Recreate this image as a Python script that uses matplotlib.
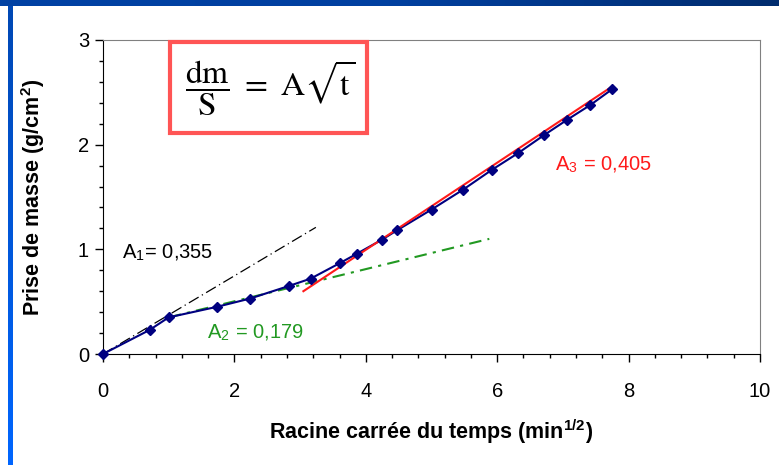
#Prise de masse vs racine carree du temps, with the three linear regimes A1, A2, A3.
import numpy as np
import matplotlib.pyplot as plt
from matplotlib.patches import Rectangle
from matplotlib.colors import LinearSegmentedColormap

plt.rcParams['font.family'] = ['Liberation Sans', 'DejaVu Sans']
plt.rcParams['mathtext.fontset'] = 'stix'

#measured points: sqrt(t) in min^1/2 and mass gain in g/cm2
sqrt_t = [0, 0.71, 1.0, 1.73, 2.24, 2.83, 3.16, 3.61, 3.87, 4.24, 4.47,
          5.0, 5.48, 5.92, 6.32, 6.71, 7.07, 7.42, 7.75]
gain = [0, 0.23, 0.35, 0.45, 0.53, 0.65, 0.72, 0.87, 0.96, 1.09, 1.18,
        1.38, 1.57, 1.76, 1.92, 2.09, 2.24, 2.38, 2.53]

#the three fitted regimes, start and end points
a1_x = [0, 3.24]
a1_y = [0, 1.21]
a2_x = [1.0, 5.88]
a2_y = [0.35, 1.10]
a3_x = [3.05, 7.76]
a3_y = [0.60, 2.56]

fig = plt.figure(figsize=(7.79, 4.65), dpi=100)

#slide decoration: blue bar on top and on the left
top = fig.add_axes([0, 1 - 6/465, 1, 6/465])
top.imshow(np.linspace(0, 1, 256).reshape(1, -1), aspect='auto',
           cmap=LinearSegmentedColormap.from_list('t', ['#0042a4', '#0040a0', '#002c6e']))
top.axis('off')
side = fig.add_axes([8/779, 0, 5/779, 1 - 6/465])
side.imshow(np.linspace(0, 1, 256).reshape(-1, 1), aspect='auto',
            cmap=LinearSegmentedColormap.from_list('s', ['#0048b4', '#0066ff']))
side.axis('off')

ax = fig.add_axes([103/779, 1 - 354/465, 657/779, 314/465])

ax.plot(a1_x, a1_y, color='black', lw=0.9, dashes=(9, 3, 1, 3), zorder=2)
ax.plot(a2_x, a2_y, color='#229922', lw=1.5, dashes=(6, 3, 1.5, 3), zorder=2)
ax.plot(sqrt_t, gain, color='#000080', lw=1.5, zorder=3)
ax.plot(a3_x, a3_y, color='#ff1a1a', lw=1.5, zorder=4)
ax.plot(sqrt_t, gain, 'D', color='#000080', ms=5.5, zorder=5, clip_on=False)

ax.text(0.29, 0.97, r'A$_\mathregular{1}$= 0,355', fontsize=14.5, color='black', va='center')
ax.text(1.58, 0.20, r'A$_\mathregular{2}$ = 0,179', fontsize=14.5, color='#229922', va='center')
ax.text(6.88, 1.81, r'A$_\mathregular{3}$ = 0,405', fontsize=14.5, color='#ff1a1a', va='center')

ax.set_xlim(0, 10)
ax.set_ylim(0, 3)
ax.set_xticks([0, 2, 4, 6, 8, 10])
ax.set_xticks(np.arange(0, 10.01, 0.4), minor=True)
ax.set_yticks([0, 1, 2, 3])
ax.set_yticks(np.arange(0, 3.01, 0.2), minor=True)
ax.tick_params(which='major', direction='out', length=6, width=1, labelsize=14.5, colors='black')
ax.tick_params(which='minor', direction='out', length=3, width=1)
ax.tick_params(axis='x', pad=14)
ax.tick_params(axis='y', pad=4)
for s in ['top', 'right']:
    ax.spines[s].set_color('#808080')
for s in ['left', 'bottom']:
    ax.spines[s].set_color('black')

ax.set_xlabel(r'Racine carrée du temps (min$^\mathregular{1/2}$)', fontsize=15.5, fontweight='bold', labelpad=12)
ax.set_ylabel(r'Prise de masse (g/cm$^\mathregular{2}$)', fontsize=15.5, fontweight='bold', labelpad=22)

#formula box
fig.patches.append(Rectangle((170/779, 1 - 133/465), 197/779, 91/465, transform=fig.transFigure,
                             facecolor='white', edgecolor='#ff5555', lw=3, zorder=10))
fig.text(270/779, 1 - 88/465, r'$\dfrac{\mathrm{dm}}{\mathrm{S}}\ =\ \mathrm{A}\sqrt{\mathrm{t}}$',
         fontsize=24, ha='center', va='center', zorder=11)

fig.savefig('out.png', dpi=100)
